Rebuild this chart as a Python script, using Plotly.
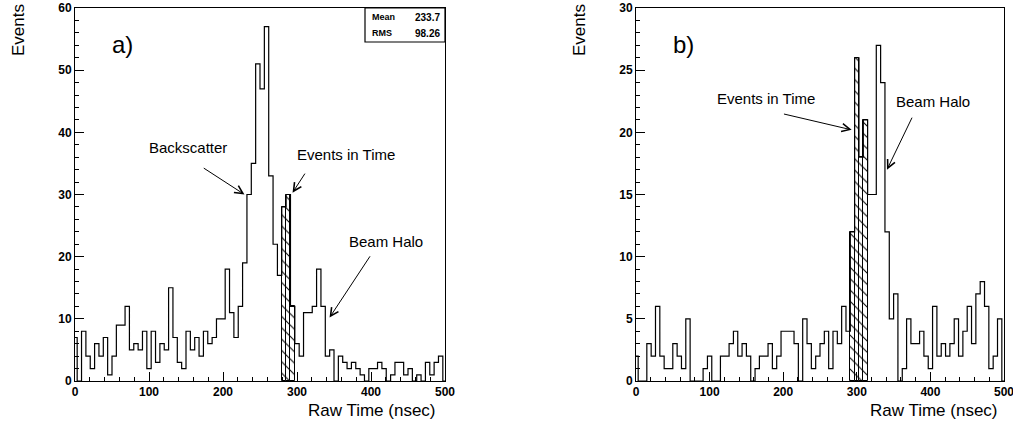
import numpy as np
import plotly.graph_objects as go

# ---------------- data ----------------
N_BINS = 86
BIN_WIDTH = 500 / 85          # ns per bin (bins centred on k * BIN_WIDTH)
bin_centers = np.arange(N_BINS) * BIN_WIDTH

events_a = [7, 0, 8, 4, 2, 6, 4, 7, 1, 4,
            9, 9, 12, 5, 6, 5, 8, 2, 8, 3,
            6, 5, 15, 7, 3, 2, 8, 5, 7, 4,
            8, 6, 7, 10, 10, 18, 11, 7, 12, 19,
            30, 35, 51, 47, 57, 33, 22, 17, 28, 30,
            12, 6, 4, 11, 11, 12, 18, 12, 4, 5,
            0, 4, 3, 2, 3, 2, 1, 0, 2, 2,
            3, 2, 0, 1, 3, 3, 1, 2, 0, 1,
            0, 3, 1, 3, 4, 0]
in_time_a_bins = [48, 49, 50]

events_b = [2, 0, 0, 3, 2, 6, 2, 1, 1, 3,
            2, 1, 5, 0, 0, 0, 1, 2, 0, 0,
            2, 2, 3, 4, 2, 3, 2, 0, 1, 2,
            2, 3, 1, 2, 4, 4, 4, 3, 0, 5,
            3, 1, 2, 3, 4, 1, 4, 3, 6, 4,
            12, 26, 18, 21, 15, 15, 27, 24, 12, 5,
            7, 0, 1, 5, 3, 3, 4, 2, 1, 6,
            2, 3, 2, 3, 5, 2, 4, 6, 3, 7,
            8, 6, 1, 2, 5, 0]
in_time_b_bins = [50, 51, 52, 53]

x_ticks = [0, 100, 200, 300, 400, 500]
y_ticks_a = [0, 10, 20, 30, 40, 50, 60]
y_ticks_b = [0, 5, 10, 15, 20, 25, 30]

stats_labels = ["Mean", "RMS"]
stats_values = ["233.7", "98.26"]

# ---------------- figure ----------------
W, H = 1013, 434
FONT = "Liberation Sans"

def px_x(p):
    return p / W

def px_y(p):
    return 1 - p / H

fig = go.Figure()

pattern = dict(shape="\\", fgcolor="black", bgcolor="white", size=8,
               solidity=0.13, fillmode="replace")

for vals, bins, xa, ya in [(events_a, in_time_a_bins, "x", "y"),
                           (events_b, in_time_b_bins, "x2", "y2")]:
    fig.add_trace(go.Bar(
        x=[bin_centers[i] for i in bins], y=[vals[i] for i in bins],
        width=BIN_WIDTH, marker=dict(color="white", pattern=pattern,
                                     line=dict(color="black", width=1)),
        xaxis=xa, yaxis=ya, showlegend=False, hoverinfo="skip"))
    fig.add_trace(go.Scatter(
        x=bin_centers, y=vals, mode="lines", line_shape="hvh",
        line=dict(color="black", width=1.2), xaxis=xa, yaxis=ya,
        showlegend=False))

axis_common = dict(showline=True, linecolor="black", linewidth=1, mirror=True,
                   ticks="inside", ticklen=9, tickcolor="black", showgrid=False,
                   zeroline=False, automargin=False, ticklabeloverflow="allow",
                   tickfont=dict(family=FONT, size=12, color="black", weight="bold"))

dom_a = [px_x(75), px_x(445)]
dom_b = [px_x(636), px_x(1004)]
dom_y = [px_y(381), px_y(8)]

minor_x = dict(dtick=20, tick0=0, ticks="inside", ticklen=4, tickcolor="black")

fig.update_layout(
    width=W, height=H, margin=dict(l=0, r=0, t=0, b=0, autoexpand=False),
    paper_bgcolor="white", plot_bgcolor="white", bargap=0,
    xaxis=dict(domain=dom_a, range=[0, 500], tickvals=x_ticks, anchor="y",
               minor=minor_x, **axis_common),
    yaxis=dict(domain=dom_y, range=[0, 60], tickvals=y_ticks_a, anchor="x",
               minor=dict(dtick=2, tick0=0, ticks="inside", ticklen=4, tickcolor="black"),
               **axis_common),
    xaxis2=dict(domain=dom_b, range=[0, 500], tickvals=x_ticks, anchor="y2",
                minor=minor_x, **axis_common),
    yaxis2=dict(domain=dom_y, range=[0, 30], tickvals=y_ticks_b, anchor="x2",
                minor=dict(dtick=1, tick0=0, ticks="inside", ticklen=4, tickcolor="black"),
                **axis_common),
)

ann = []
txt = dict(family=FONT, size=15, color="black")

def paper_text(text, x, y, size, angle=0, xanchor="center", weight="normal"):
    ann.append(dict(text=text, x=px_x(x), y=px_y(y), xref="paper", yref="paper",
                    xanchor=xanchor, yanchor="middle", showarrow=False,
                    textangle=angle,
                    font=dict(family=FONT, size=size, color="black", weight=weight)))

# axis titles
for cx in [372, 934]:
    paper_text("Raw Time (nsec)", cx, 410, 17)
for cx in [18, 579]:
    paper_text("Events", cx, 30, 17, angle=-90)

# panel letters
paper_text("a)", 122, 45, 24)
paper_text("b)", 683, 45, 24)


def add_arrow(text, tx, ty, tail, tip, xa, ya):
    ann.append(dict(text=text, x=tx, y=ty, xref=xa, yref=ya, showarrow=False, font=txt))
    ann.append(dict(text="", x=tip[0], y=tip[1], ax=tail[0], ay=tail[1],
                    xref=xa, yref=ya, axref=xa, ayref=ya, showarrow=True,
                    arrowhead=5, arrowsize=1.6, arrowwidth=1, arrowcolor="black"))

# panel a labels (data coordinates)
add_arrow("Backscatter", 153, 37.5, (172, 34.4), (229, 30), "x", "y")
add_arrow("Events in Time", 366, 36.5, (312, 33.6), (294, 30.3), "x", "y")
add_arrow("Beam Halo", 420, 22.5, (400, 20.3), (344, 10.2), "x", "y")
# panel b labels
add_arrow("Events in Time", 176, 22.7, (199, 21.5), (293, 20.2), "x2", "y2")
add_arrow("Beam Halo", 403, 22.5, (376, 21.3), (341, 17.0), "x2", "y2")

# stats box
for i, (lab, val) in enumerate(zip(stats_labels, stats_values)):
    yy = 17 + 16 * i
    paper_text(lab, 370, yy, 9, xanchor="left", weight="bold")
    paper_text(val, 442, yy, 10, xanchor="right", weight="bold")

fig.update_layout(
    annotations=ann,
    shapes=[dict(type="rect", xref="paper", yref="paper",
                 x0=px_x(365), x1=px_x(445), y0=px_y(42), y1=px_y(8),
                 line=dict(color="black", width=1.2), fillcolor="rgba(0,0,0,0)",
                 layer="above")])

fig.write_html("out.html")
